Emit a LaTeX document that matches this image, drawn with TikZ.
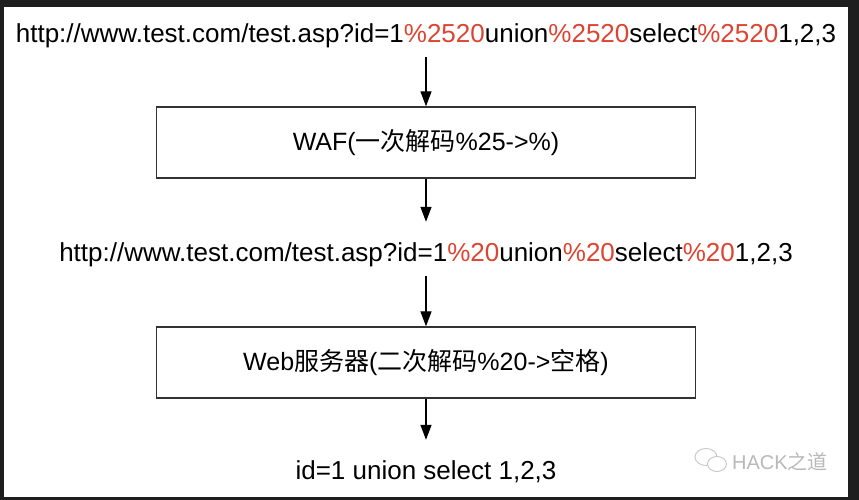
\documentclass[tikz,border=0pt]{standalone}
\usepackage{fontspec}
\setmainfont{Liberation Sans}
\newfontfamily\cjk{Noto Sans CJK SC}
\usetikzlibrary{arrows.meta}
\definecolor{pct}{RGB}{221,68,50}
\definecolor{framebg}{RGB}{30,30,30}
\definecolor{edge}{RGB}{50,50,50}
\newcommand{\pc}[1]{\textcolor{pct}{\%#1}}
\tikzset{url/.style = {font=\fontsize{26}{30}\selectfont, anchor=base, text height=30pt, text depth=4pt, inner ysep=10pt, inner xsep=0pt}}
\tikzset{stage/.style = {draw=edge, line width=1.3pt, minimum width=539pt, minimum height=71pt, font=\fontsize{25}{30}\selectfont}}
\tikzset{arr/.style = {line width=1.3pt, -{Triangle[length=15pt, width=11pt]}}}

\begin{document}
\begin{tikzpicture}[x=1pt, y=1pt]
\useasboundingbox (0,0) rectangle (859,500);
\fill[framebg] (0,0) rectangle (859,500);
\fill[white] (4,3) rectangle (848,493);
\node[url] (url1) at (426,457) {http://www.test.com/test.asp?id=1\pc{2520}union\pc{2520}select\pc{2520}1,2,3};
\node[stage] (waf) at (426,357.5) {WAF({\cjk 一次解码}\%25->\%)};
\node[url] (url2) at (426,238) {http://www.test.com/test.asp?id=1\pc{20}union\pc{20}select\pc{20}1,2,3};
\node[stage] (web) at (426,137.5) {Web{\cjk 服务器}({\cjk 二次解码}\%20->{\cjk 空格})};
\node[url] (res) at (426,20) {id=1 union select 1,2,3};
\draw[arr] (url1.south) -- (waf.north);
\draw[arr] (waf.south) -- (url2.north);
\draw[arr] (url2.south) -- (web.north);
\draw[arr] (web.south) -- (res.north);
\draw[gray!45, line width=0.9pt] (706,43) ellipse (11 and 8.5);
\draw[gray!45, line width=0.9pt, fill=white] (717,36) ellipse (9.5 and 7.5);
\node[font=\fontsize{20}{24}\selectfont, text=gray!55, anchor=west, inner sep=0pt] (mark) at (732,38) {HACK{\cjk 之道}};
\end{tikzpicture}
\end{document}
